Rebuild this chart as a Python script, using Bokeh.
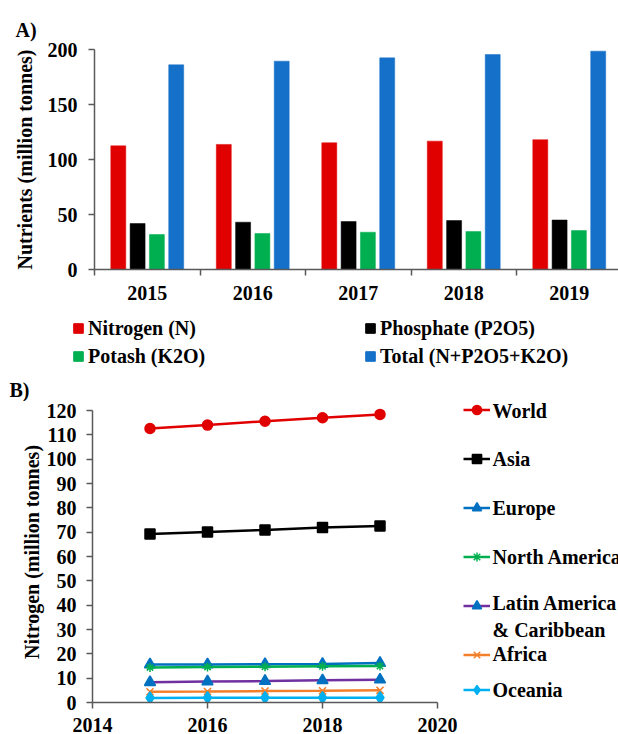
from bokeh.plotting import figure
from bokeh.models import Range1d, FixedTicker, Legend, LegendItem, Label
from bokeh.embed import file_html
from bokeh.resources import INLINE

# ---------------- data ----------------
year_labels = ["2015", "2016", "2017", "2018", "2019"]
nitrogen = [112.4, 113.7, 115.2, 116.7, 118.0]
phosphate = [41.8, 43.0, 43.6, 44.5, 45.0]
potash = [31.8, 32.7, 33.9, 34.5, 35.4]
total = [186.1, 189.4, 192.4, 195.4, 198.5]

years = [2015, 2016, 2017, 2018, 2019]
world = [112.6, 114.0, 115.6, 117.0, 118.4]
asia = [69.2, 70.1, 70.9, 71.9, 72.5]
europe = [15.6, 15.6, 15.7, 15.8, 16.2]
north_america = [14.4, 14.6, 14.7, 14.9, 15.0]
latin_america = [8.3, 8.6, 8.8, 9.1, 9.4]
africa = [4.4, 4.5, 4.7, 4.8, 5.0]
oceania = [1.9, 2.0, 2.0, 2.0, 2.0]

FONT = "Liberation Serif"
AXIS = "#595959"
FS = "20px"
W = 618


def style_axis(ax):
    ax.axis_line_color = AXIS
    ax.axis_line_width = 1.5
    ax.major_tick_line_color = AXIS
    ax.major_tick_line_width = 1.5
    ax.minor_tick_line_color = None
    ax.major_tick_in = 0
    ax.major_tick_out = 6
    ax.major_label_text_font = FONT
    ax.major_label_text_font_style = "bold"
    ax.major_label_text_font_size = FS
    ax.major_label_text_color = "black"
    ax.axis_label_text_font = FONT
    ax.axis_label_text_font_style = "bold"
    ax.axis_label_text_font_size = FS
    ax.axis_label_text_color = "black"


def glyph_legend(renderers, **kw):
    # legend keys only; their texts are drawn as Labels (same font as the axes)
    return Legend(items=[LegendItem(label=" ", renderers=[r]) for r in renderers],
                  padding=0, margin=0, border_line_color=None, background_fill_alpha=0,
                  label_text_font_size="1px", label_width=1, label_standoff=0, **kw)


def text_label(x, y, text):
    return Label(x=x, y=y, text=text, text_font=FONT, text_font_style="bold",
                 text_font_size=FS, text_color="black", text_baseline="middle",
                 text_align="left")


# ---------------- panel A (bars) ----------------
cat_px = 105.5
frameA_w = W - 94
pA = figure(frame_width=frameA_w, frame_height=220, output_backend="svg",
            toolbar_location=None,
            x_range=Range1d(0, frameA_w / cat_px), y_range=Range1d(0, 200),
            min_border_left=94, min_border_right=0, min_border_top=49,
            min_border_bottom=36, outline_line_color=None)
pA.xgrid.visible = False
pA.ygrid.visible = False
pA.title.text = "A)"
pA.title.align = "left"
pA.title.offset = -79
pA.title.standoff = 17
pA.title.text_font = FONT
pA.title.text_font_style = "bold"
pA.title.text_font_size = FS
pA.title.text_color = "black"

centers = [i + 0.5 for i in range(len(year_labels))]
offsets = [-0.2745, -0.0915, 0.0915, 0.2745]
series = [(nitrogen, "#E00000", "Nitrogen (N)"),
          (phosphate, "#000000", "Phosphate (P2O5)"),
          (potash, "#00B050", "Potash (K2O)"),
          (total, "#1570C9", "Total (N+P2O5+K2O)")]
for (vals, col, lab), off in zip(series, offsets):
    pA.vbar(x=[c + off for c in centers], top=vals, width=0.142,
            fill_color=col, line_color=col, line_width=0.5)

xa = pA.xaxis[0]
style_axis(xa)
xa.ticker = FixedTicker(ticks=centers, minor_ticks=list(range(len(year_labels) + 1)))
xa.major_label_overrides = {c: y for c, y in zip(centers, year_labels)}
xa.major_tick_out = 0
xa.major_tick_line_color = None
xa.minor_tick_line_color = AXIS
xa.minor_tick_line_width = 1.5
xa.minor_tick_in = 0
xa.minor_tick_out = 6
xa.major_label_standoff = 10

ya = pA.yaxis[0]
style_axis(ya)
ya.ticker = FixedTicker(ticks=[0, 50, 100, 150, 200])
ya.major_label_standoff = 11
ya.axis_label = "Nutrients (million tonnes)"
ya.axis_label_standoff = 9

# ---------------- legend strip for panel A ----------------
LEG_H = 96
pL = figure(width=W, height=LEG_H, output_backend="svg", toolbar_location=None,
            x_range=Range1d(0, W), y_range=Range1d(0, LEG_H), min_border=0,
            x_axis_location=None, y_axis_location=None, outline_line_color=None)
pL.xgrid.visible = False
pL.ygrid.visible = False
pL.extra_y_ranges = {"off": Range1d(1000, 1001)}
leg_r = []
for (vals, col, lab), off in zip(series, offsets):
    r = pL.vbar(x=[c + off for c in centers], top=vals, width=0.142,
                fill_color=col, line_color=col, y_range_name="off")
    leg_r.append(r)
row_y = [74, 46]
for cols, xloc in (((0, 2), 72), ((1, 3), 364)):
    lg = glyph_legend([leg_r[i] for i in cols], location=(xloc, 34), spacing=5,
                      glyph_width=12, glyph_height=12, label_height=23)
    pL.add_layout(lg)
    for i, yy in zip(cols, row_y):
        pL.add_layout(text_label(xloc + 15.5, yy, series[i][2]))
pL.add_layout(Label(x=9, y=12, text="B)", text_font=FONT, text_font_style="bold",
                    text_font_size=FS, text_color="black", text_baseline="middle"))

# ---------------- panel B (lines) ----------------
px_per_year = 57.5
frameB_w = W - 92
frameB_h = 301
px_per_unit = 292 / 120
pB = figure(frame_width=frameB_w, frame_height=frameB_h, output_backend="svg",
            toolbar_location=None,
            x_range=Range1d(2014, 2014 + frameB_w / px_per_year),
            y_range=Range1d(0, frameB_h / px_per_unit),
            min_border_left=92, min_border_right=0, min_border_top=0,
            min_border_bottom=34, outline_line_color=None)
pB.xgrid.visible = False
pB.ygrid.visible = False

line_series = [
    ("World", world, "#E00000", "circle", "#E00000", 10),
    ("Asia", asia, "#000000", "square", "#000000", 10),
    ("Europe", europe, "#0070C0", "triangle", "#0070C0", 11),
    ("North America", north_america, "#00B050", "asterisk", "#00B050", 9),
    ("Latin America\n& Caribbean", latin_america, "#7030A0", "triangle", "#0070C0", 11),
    ("Africa", africa, "#F47F2A", "x", "#F47F2A", 10),
    ("Oceania", oceania, "#00B0F0", "diamond", "#00B0F0", 12),
]
key_r = []
for name, vals, lcol, marker, mcol, size in line_series:
    lr = pB.line(years, vals, line_color=lcol, line_width=2.5)
    sr = pB.scatter(years, vals, marker=marker, size=size, fill_color=mcol,
                    line_color=mcol, line_width=1.5)
    key_r.append((lr, sr))


def key_legend(pairs, **kw):
    return Legend(items=[LegendItem(label=" ", renderers=list(p)) for p in pairs],
                  padding=0, margin=0, border_line_color=None, background_fill_alpha=0,
                  label_text_font_size="1px", label_width=1, label_standoff=0,
                  glyph_width=27, glyph_height=23, label_height=23, **kw)


pB.add_layout(key_legend(key_r[:6], location=(371, 36), spacing=26))
pB.add_layout(key_legend(key_r[6:], location=(371, 1), spacing=0))

# legend texts: one slot per 20 units of the value axis, as in the original
label_x = 2014 + (492 - 92) / px_per_year
slot_y = [120, 100, 80, 60, 40 - 11.5 / px_per_unit, 20, 12.2 / px_per_unit]
for (name, *_), yy in zip(line_series, slot_y):
    pB.add_layout(text_label(label_x, yy, name))

xb = pB.xaxis[0]
style_axis(xb)
xb.ticker = FixedTicker(ticks=[2014, 2016, 2018, 2020])
xb.bounds = (2014, 2020)
xb.major_label_standoff = 9

yb = pB.yaxis[0]
style_axis(yb)
yb.ticker = FixedTicker(ticks=list(range(0, 121, 10)))
yb.bounds = (0, 120)
yb.major_label_standoff = 10
yb.axis_label = "Nitrogen (million tonnes)"
yb.axis_label_standoff = 1

open("out.html", "w").write(file_html([pA, pL, pB], INLINE))
